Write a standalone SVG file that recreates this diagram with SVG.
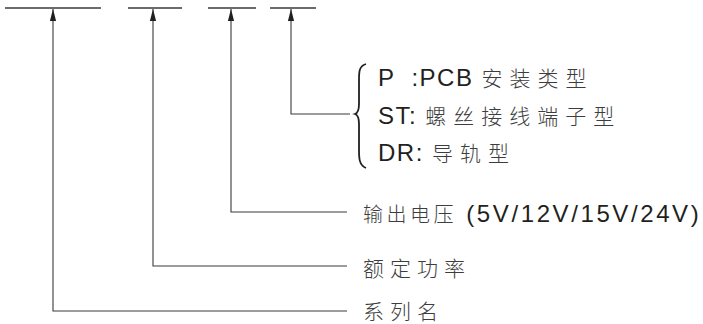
<svg xmlns="http://www.w3.org/2000/svg" width="703" height="324" viewBox="0 0 703 324">
<defs>
<marker id="arr" viewBox="0 0 12 8" refX="12" refY="4" markerWidth="12" markerHeight="8" markerUnits="userSpaceOnUse" orient="auto">
<path d="M0,0.9 L12,4 L0,7.1 Z" fill="#231f20"/>
</marker>
<style>
.ln{stroke:#3a3a3a;stroke-width:1.1;fill:none}
.bar{stroke:#3a3a3a;stroke-width:1.4}
.lat{font-family:"Liberation Sans",Arial,sans-serif;font-size:24px;fill:#231f20;letter-spacing:2.6px}
.lat2{font-family:"Liberation Sans",Arial,sans-serif;font-size:24px;fill:#231f20;letter-spacing:1.5px}
.cjk{font-family:"Noto Sans CJK SC","Noto Sans",sans-serif;font-size:21px;fill:#3d3d3d;letter-spacing:6px;font-weight:300}
.cjk3{font-family:"Noto Sans CJK SC","Noto Sans",sans-serif;font-size:21px;fill:#3d3d3d;letter-spacing:7px;font-weight:300}
.cjk2{font-family:"Noto Sans CJK SC","Noto Sans",sans-serif;font-size:20px;fill:#3d3d3d;letter-spacing:3.5px;font-weight:300}
</style>
</defs>
<g id="top-bars">
<line class="bar" x1="5" y1="8" x2="101" y2="8"/>
<line class="bar" x1="128" y1="8" x2="182" y2="8"/>
<line class="bar" x1="208" y1="8" x2="256" y2="8"/>
<line class="bar" x1="270" y1="8" x2="316" y2="8"/>
</g>
<g id="connectors">
<path class="ln" d="M347,311 H53 V9" marker-end="url(#arr)"/>
<path class="ln" d="M347,266 H153 V9" marker-end="url(#arr)"/>
<path class="ln" d="M347,212 H231 V9" marker-end="url(#arr)"/>
<path class="ln" d="M350,114 H291 V9" marker-end="url(#arr)"/>
</g>
<g id="brace">
<path d="M366,64 C359,66 359,72 359,80 L359,104 C359,110 358,113 355,114 C358,115 359,118 359,124 L359,150 C359,158 359,165 366,168" fill="none" stroke="#231f20" stroke-width="1.8"/>
</g>
<g id="mount-type">
<text x="378" y="86" xml:space="preserve"><tspan class="lat2">P  :PCB </tspan><tspan class="cjk3">安装类型</tspan></text>
<text x="378" y="124" xml:space="preserve"><tspan class="lat2">ST: </tspan><tspan class="cjk3">螺丝接线端子型</tspan></text>
<text x="378" y="161" xml:space="preserve"><tspan class="lat2">DR: </tspan><tspan class="cjk3">导轨型</tspan></text>
</g>
<g id="output-voltage">
<text x="363" y="222" xml:space="preserve"><tspan class="cjk2">输出电压</tspan><tspan class="lat"> (5V/12V/15V/24V)</tspan></text>
</g>
<g id="rated-power">
<text x="363" y="276" class="cjk">额定功率</text>
</g>
<g id="series-name">
<text x="363" y="319" class="cjk">系列名</text>
</g>
</svg>
